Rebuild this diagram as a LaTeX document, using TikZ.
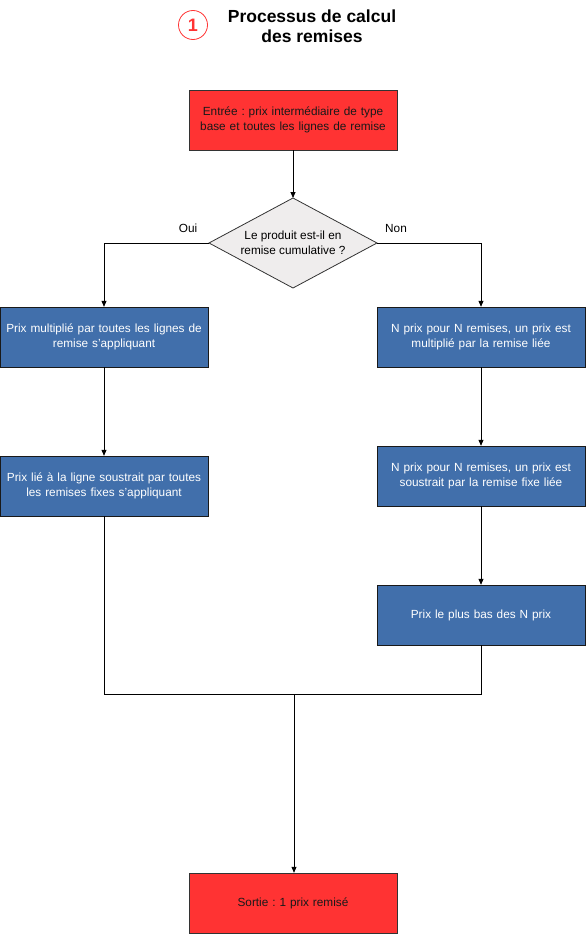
\documentclass[tikz,border=0pt]{standalone}
\usepackage{fontspec}
\setmainfont{Liberation Sans}
\frenchspacing
\usetikzlibrary{arrows.meta}
\definecolor{boxred}{HTML}{FF3333}
\definecolor{boxblue}{HTML}{416FAB}
\definecolor{diagrey}{HTML}{EFEDED}
\definecolor{linegrey}{HTML}{333333}
\tikzset{
  redbox/.style={draw=linegrey, fill=boxred, minimum width=208pt, minimum height=60pt, inner sep=0pt, text width=200pt, align=center, font=\fontsize{11.8}{14.5}\selectfont, text=black!90},
  bluebox/.style={draw=black!90, fill=boxblue, minimum width=208pt, minimum height=60pt, inner sep=0pt, text width=200pt, align=center, font=\fontsize{11.8}{14.5}\selectfont, text=white},
  lbl/.style={font=\fontsize{11.8}{14}\selectfont},
  conn/.style={draw=black, line width=0.8pt},
  arr/.style={conn, -{Triangle[length=6pt,width=5pt]}}
}
\begin{document}
\begin{tikzpicture}[x=1pt,y=-1pt]
\useasboundingbox (0,0) rectangle (586,934);
% title
\node[circle, draw=boxred, line width=0.8pt, minimum size=29pt, inner sep=0pt, text=boxred, font=\fontsize{18}{20}\selectfont\bfseries] (num) at (193,25) {1};
\node[font=\fontsize{17.5}{20}\selectfont\bfseries, align=center] (title) at (312,26) {Processus de calcul\\des remises};
% diamond
\coordinate (qN) at (293,198);
\coordinate (qS) at (293,288);
\coordinate (qW) at (209,243);
\coordinate (qE) at (377,243);
\draw[draw=linegrey, fill=diagrey, line width=0.8pt] (qN) -- (qE) -- (qS) -- (qW) -- cycle;
\node[font=\fontsize{11.8}{14.5}\selectfont, align=center] (q) at (293,243) {Le produit est-il en\\remise cumulative ?};
% nodes
\node[redbox] (in) at (293,120) {Entrée : prix intermédiaire de type\\base et toutes les lignes de remise};
\node[lbl] (oui) at (188,228) {Oui};
\node[lbl] (non) at (396,228) {Non};
\node[bluebox] (l1) at (104,337) {Prix multiplié par toutes les lignes de\\remise s'appliquant};
\node[bluebox] (l2) at (104,486) {Prix lié à la ligne soustrait par toutes\\les remises fixes s'appliquant};
\node[bluebox] (r1) at (481,337) {N prix pour N remises, un prix est\\multiplié par la remise liée};
\node[bluebox] (r2) at (481,476) {N prix pour N remises, un prix est\\soustrait par la remise fixe liée};
\node[bluebox] (r3) at (481,615) {Prix le plus bas des N prix};
\node[redbox] (out) at (293,903) {Sortie : 1 prix remisé};
\coordinate (j) at (294,694);
% connectors
\draw[arr] (in) -- (qN);
\draw[arr] (qW) -| (l1.north);
\draw[arr] (qE) -| (r1.north);
\draw[arr] (l1) -- (l2);
\draw[arr] (r1) -- (r2);
\draw[arr] (r2) -- (r3);
\draw[conn] (l2.south) |- (j);
\draw[conn] (r3.south) |- (j);
\draw[arr] (j) -- (j |- out.north);
\end{tikzpicture}
\end{document}
